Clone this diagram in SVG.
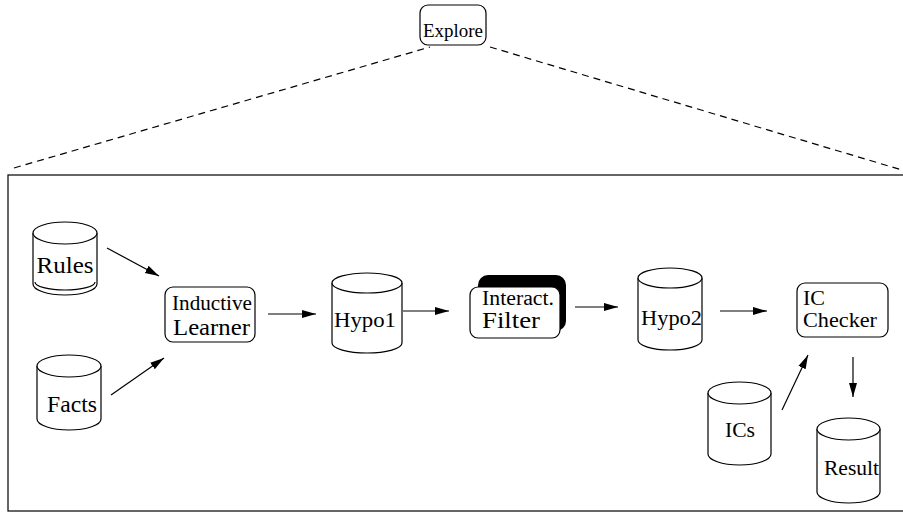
<svg xmlns="http://www.w3.org/2000/svg" width="903" height="513" viewBox="0 0 903 513">
<style>
.ln{fill:none;stroke:#000;stroke-width:1.2}
.bx{fill:#fff;stroke:#000;stroke-width:1.2}
.dash{fill:none;stroke:#000;stroke-width:1.2;stroke-dasharray:7 5}
.t{font-family:"Liberation Serif","Times New Roman",serif;fill:#000}
.ar{fill:none;stroke:#000;stroke-width:1.2;marker-end:url(#ah)}
</style>
<defs>
<marker id="ah" viewBox="0 0 14 10" refX="14" refY="5" markerWidth="14" markerHeight="10" markerUnits="userSpaceOnUse" orient="auto">
<path d="M0,1 L14,5 L0,9 z" fill="#000"/>
</marker>
</defs>
<rect x="8" y="175" width="900" height="336" class="ln"/>
<g id="connectors">
<line class="dash" x1="14" y1="168" x2="430" y2="47"/>
<line class="dash" x1="490" y1="47" x2="902" y2="170"/>
<line class="ar" x1="107" y1="248" x2="159" y2="276"/>
<line class="ar" x1="111" y1="395" x2="164" y2="358"/>
<line class="ar" x1="268" y1="314" x2="316" y2="314"/>
<line class="ar" x1="403" y1="311" x2="449" y2="311"/>
<line class="ar" x1="575" y1="307" x2="618" y2="307"/>
<line class="ar" x1="720" y1="311" x2="767" y2="311"/>
<line class="ar" x1="782" y1="410" x2="808" y2="355"/>
<line class="ar" x1="853" y1="357" x2="853" y2="397"/>
</g>
<g id="explore">
<rect class="bx" x="420" y="5" width="66" height="40" rx="8"/>
<text class="t" x="453" y="37" font-size="19" text-anchor="middle" textLength="60" lengthAdjust="spacingAndGlyphs">Explore</text>
</g>
<g id="rules">
<path class="bx" d="M33,233 L33,284 A32,11 0 0 0 97,284 L97,233"/>
<ellipse class="bx" cx="65" cy="233" rx="32" ry="11"/>
<path class="ln" d="M35,282 A30,8 0 0 0 95,282"/>
<text class="t" x="65" y="273" font-size="24" text-anchor="middle" textLength="57" lengthAdjust="spacingAndGlyphs">Rules</text>
</g>
<g id="facts">
<path class="bx" d="M37,366 L37,419 A32,11 0 0 0 101,419 L101,366"/>
<ellipse class="bx" cx="69" cy="366" rx="32" ry="11"/>
<text class="t" x="72" y="412" font-size="23" text-anchor="middle" textLength="50" lengthAdjust="spacingAndGlyphs">Facts</text>
</g>
<g id="inductive">
<rect class="bx" x="165" y="287" width="90" height="55" rx="8"/>
<text class="t" x="172" y="310" font-size="20" textLength="80" lengthAdjust="spacingAndGlyphs">Inductive</text>
<text class="t" x="173" y="335" font-size="24" textLength="77" lengthAdjust="spacingAndGlyphs">Learner</text>
</g>
<g id="hypo1">
<path class="bx" d="M332,283 L332,343 A35,10 0 0 0 402,343 L402,283"/>
<ellipse class="bx" cx="367" cy="283" rx="35" ry="10"/>
<text class="t" x="334" y="327" font-size="22" textLength="62" lengthAdjust="spacingAndGlyphs">Hypo1</text>
</g>
<g id="filter">
<rect x="478" y="275" width="88" height="56" rx="10" fill="#000"/>
<rect class="bx" x="470" y="287" width="90" height="51" rx="8"/>
<text class="t" x="482" y="305" font-size="20" textLength="72" lengthAdjust="spacingAndGlyphs">Interact.</text>
<text class="t" x="482" y="328" font-size="24" textLength="58" lengthAdjust="spacingAndGlyphs">Filter</text>
</g>
<g id="hypo2">
<path class="bx" d="M638,278 L638,340 A32,10 0 0 0 702,340 L702,278"/>
<ellipse class="bx" cx="670" cy="278" rx="32" ry="10"/>
<text class="t" x="641" y="325" font-size="22" textLength="61" lengthAdjust="spacingAndGlyphs">Hypo2</text>
</g>
<g id="icchecker">
<rect class="bx" x="797" y="283" width="91" height="54" rx="8"/>
<text class="t" x="803" y="305" font-size="20" textLength="22" lengthAdjust="spacingAndGlyphs">IC</text>
<text class="t" x="803" y="327" font-size="22" textLength="74" lengthAdjust="spacingAndGlyphs">Checker</text>
</g>
<g id="ics">
<path class="bx" d="M708,393 L708,454 A31.5,11 0 0 0 771,454 L771,393"/>
<ellipse class="bx" cx="739.5" cy="393" rx="31.5" ry="11"/>
<text class="t" x="740" y="437" font-size="22" text-anchor="middle" textLength="30" lengthAdjust="spacingAndGlyphs">ICs</text>
</g>
<g id="result">
<path class="bx" d="M817,429 L817,492 A31.5,11 0 0 0 880,492 L880,429"/>
<ellipse class="bx" cx="848.5" cy="429" rx="31.5" ry="11"/>
<text class="t" x="824" y="475" font-size="22" textLength="55" lengthAdjust="spacingAndGlyphs">Result</text>
</g>
</svg>
